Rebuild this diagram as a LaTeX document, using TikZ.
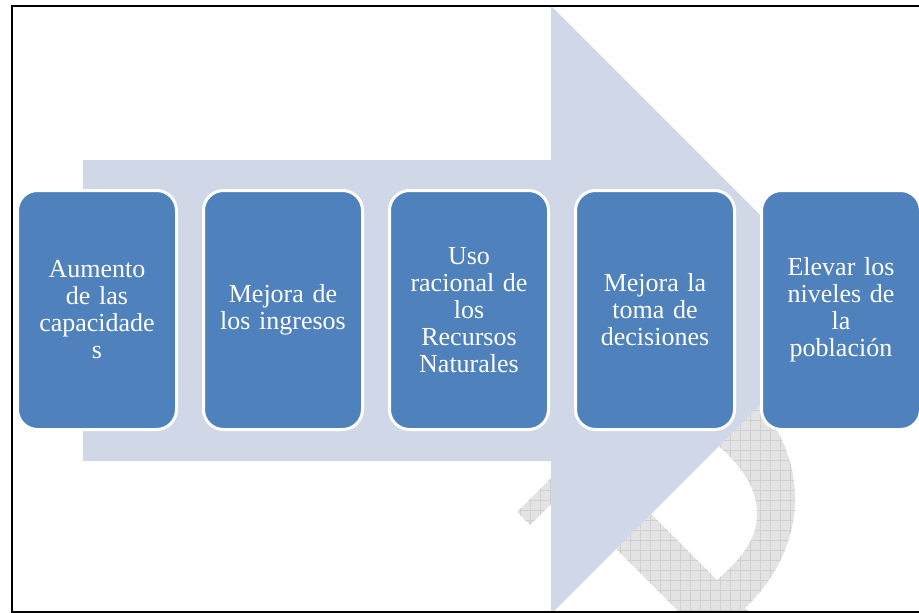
\documentclass[tikz,border=0pt]{standalone}
\usepackage{fontspec}
\setmainfont{Liberation Serif}
\definecolor{arrowblue}{HTML}{D0D8E8}
\definecolor{boxblue}{HTML}{4F81BD}
\tikzset{
  stepbox/.style={rectangle, rounded corners=20pt, fill=boxblue, draw=white, line width=3pt,
    minimum width=159pt, minimum height=239pt, text width=150pt, align=center,
    text=white, font=\fontsize{26}{27}\selectfont},
  wmgrid/.style={draw=black!19, line width=0.6pt}
}
\begin{document}
\begin{tikzpicture}[x=1pt,y=-1pt]
\useasboundingbox (0,0) rectangle (919,613);
\begin{scope}
\clip (0,0) rectangle (919,613);
% watermark
\begin{scope}
\clip (570,503) -- (700,633) -- (770,633) -- (745,608)
  .. controls (775,580) and (795,540) .. (795,500)
  .. controls (795,460) and (780,430) .. (760,407)
  -- (740,385) -- (700,430) -- (720,447)
  .. controls (745,470) and (757,490) .. (757,515)
  .. controls (757,540) and (740,560) .. (717,580)
  -- (600,463) -- cycle
  (517,512) -- (530,525) -- (640,415) -- (627,402) -- cycle;
\fill[black!11] (500,370) rectangle (820,640);
\draw[wmgrid] (500,370) grid[step=10pt] (820,640);
\end{scope}
% big arrow
\fill[arrowblue] (83,160) -- (551,160) -- (551,6) -- (855,310) -- (551,614) -- (551,461) -- (83,461) -- cycle;
% boxes
\node[stepbox] (b1) at (97,310) {Aumento\\de las\\capacidade\\s};
\node[stepbox] (b2) at (283,310) {Mejora de\\los ingresos};
\node[stepbox] (b3) at (469,310) {Uso\\racional de\\los\\Recursos\\Naturales};
\node[stepbox] (b4) at (655,310) {Mejora la\\toma de\\decisiones};
\node[stepbox] (b5) at (841,310) {Elevar los\\niveles de\\la\\población};
\end{scope}
% frame
\draw[line width=2pt] (12,6) rectangle (940,611.7);
\end{tikzpicture}
\end{document}
